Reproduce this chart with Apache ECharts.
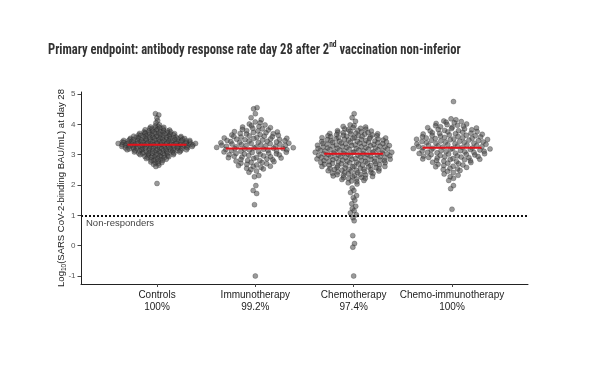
<!DOCTYPE html>
<html>
<head>
<meta charset="utf-8">
<script src="https://cdn.jsdelivr.net/npm/echarts@6/dist/echarts.min.js"></script>
<style>html,body{margin:0;padding:0;background:#fff;}#chart{width:600px;height:365px;}</style>
</head>
<body>
<div id="chart"></div>
<script>
const categories = ['Controls', 'Immunotherapy', 'Chemotherapy', 'Chemo-immunotherapy'];
const responseRates = ['100%', '99.2%', '97.4%', '100%'];
const yTicks = [-1, 0, 1, 2, 3, 4, 5];
const responderThreshold = 1;
const medians = [3.33, 3.20, 3.03, 3.23];

const controls = [4.35,4.31,4.21,4.12,4.05,3.98,3.95,3.93,3.91,3.90,
3.89,3.88,3.86,3.85,3.84,3.83,3.82,3.81,3.80,
3.79,3.78,3.78,3.77,3.76,3.75,3.75,3.74,3.73,3.72,3.72,3.71,3.70,3.70,
3.69,3.69,3.68,3.68,3.67,3.66,3.66,3.65,3.65,3.64,3.63,3.63,3.62,3.62,3.61,3.61,3.60,3.60,
3.59,3.59,3.58,3.58,3.57,3.57,3.56,3.56,3.56,3.55,3.55,3.54,3.54,3.54,3.53,3.53,3.52,3.52,3.52,3.51,3.51,3.50,3.50,3.50,
3.49,3.49,3.49,3.48,3.48,3.47,3.47,3.47,3.47,3.46,3.46,3.46,3.45,3.45,3.45,3.44,3.44,3.43,3.43,3.43,3.43,3.42,3.42,3.42,3.41,3.41,3.41,3.40,3.40,3.40,
3.39,3.39,3.39,3.38,3.38,3.38,3.38,3.37,3.37,3.37,3.36,3.36,3.36,3.35,3.35,3.35,3.35,3.34,3.34,3.34,3.33,3.33,3.33,3.33,3.32,3.32,3.32,3.31,3.31,3.31,3.30,3.30,3.30,
3.29,3.29,3.29,3.28,3.28,3.28,3.27,3.27,3.27,3.27,3.26,3.26,3.26,3.25,3.25,3.25,3.24,3.24,3.23,3.23,3.23,3.22,3.22,3.22,3.21,3.21,3.21,3.20,3.20,3.20,
3.19,3.19,3.19,3.18,3.18,3.17,3.17,3.17,3.16,3.16,3.15,3.15,3.15,3.14,3.14,3.13,3.13,3.13,3.12,3.12,3.11,3.11,3.10,3.10,
3.09,3.09,3.08,3.08,3.07,3.07,3.06,3.06,3.05,3.05,3.04,3.04,3.03,3.03,3.02,3.01,3.00,3.00,
2.99,2.98,2.97,2.96,2.95,2.95,2.94,2.93,2.92,2.92,2.91,2.90,2.90,
2.88,2.87,2.85,2.84,2.83,2.82,2.81,2.80,
2.78,2.76,2.74,2.72,2.71,2.68,2.65,2.61,2.05];

const immunotherapy = [4.55,4.51,4.35,4.22,4.15,4.08,4.05,4.01,3.98,3.95,3.93,3.91,
3.89,3.87,3.85,3.83,3.81,3.79,3.78,3.76,3.75,3.73,3.72,3.70,
3.69,3.68,3.66,3.65,3.64,3.62,3.61,3.60,3.59,3.58,3.57,3.55,3.54,3.53,3.52,3.51,3.50,
3.49,3.48,3.47,3.46,3.45,3.44,3.43,3.42,3.41,3.40,
3.39,3.38,3.37,3.36,3.35,3.34,3.33,3.32,3.31,3.30,3.30,
3.29,3.28,3.27,3.26,3.25,3.24,3.23,3.22,3.21,3.20,3.20,
3.19,3.18,3.17,3.16,3.15,3.14,3.13,3.12,3.11,3.10,
3.09,3.08,3.07,3.05,3.04,3.03,3.02,3.01,3.00,
2.99,2.97,2.96,2.95,2.93,2.92,2.91,2.90,
2.89,2.87,2.86,2.84,2.83,2.81,2.80,
2.79,2.77,2.75,2.74,2.72,2.70,2.68,2.66,2.64,2.62,2.61,
2.58,2.55,2.53,2.51,2.46,2.42,2.31,2.27,1.98,1.82,1.72,1.35,-1.00];

const chemotherapy = [4.35,4.22,4.10,3.98,3.96,3.93,3.91,
3.89,3.87,3.85,3.84,3.82,3.80,
3.79,3.78,3.77,3.75,3.74,3.73,3.72,3.71,3.70,
3.69,3.68,3.67,3.66,3.65,3.64,3.63,3.62,3.62,3.61,3.60,
3.59,3.58,3.57,3.56,3.56,3.55,3.54,3.53,3.52,3.52,3.51,3.50,
3.49,3.48,3.48,3.47,3.46,3.45,3.44,3.44,3.43,3.42,3.41,3.41,3.40,
3.39,3.38,3.38,3.37,3.36,3.35,3.35,3.34,3.33,3.32,3.32,3.31,3.30,3.30,
3.29,3.28,3.28,3.27,3.26,3.25,3.25,3.24,3.23,3.22,3.22,3.21,3.20,3.20,
3.19,3.18,3.18,3.17,3.16,3.15,3.15,3.14,3.13,3.12,3.12,3.11,3.10,3.10,
3.09,3.08,3.08,3.07,3.06,3.05,3.05,3.04,3.03,3.02,3.02,3.01,3.00,3.00,
2.99,2.98,2.98,2.97,2.96,2.95,2.95,2.94,2.93,2.93,2.92,2.91,2.91,2.90,2.90,
2.89,2.88,2.88,2.87,2.86,2.85,2.85,2.84,2.83,2.82,2.82,2.81,2.80,2.80,
2.79,2.78,2.77,2.77,2.76,2.75,2.74,2.73,2.73,2.72,2.71,2.70,2.70,
2.69,2.68,2.67,2.66,2.65,2.65,2.64,2.63,2.62,2.61,2.61,2.60,
2.59,2.58,2.57,2.56,2.55,2.54,2.53,2.52,2.52,2.51,2.50,
2.49,2.48,2.47,2.46,2.45,2.44,2.43,2.42,2.41,2.40,
2.39,2.38,2.37,2.35,2.34,2.33,2.32,2.31,2.30,
2.28,2.27,2.25,2.24,2.22,2.21,2.20,2.18,2.15,2.13,2.11,2.07,2.03,
1.90,1.82,1.75,1.65,1.58,1.50,1.38,1.30,1.22,1.15,1.08,1.02,
0.92,0.82,0.33,0.07,-0.05,-1.00];

const chemoImmunotherapy = [4.75,4.18,4.15,4.11,4.09,4.07,4.05,4.03,4.01,
3.99,3.97,3.95,3.94,3.92,3.90,
3.89,3.88,3.86,3.85,3.83,3.82,3.80,
3.79,3.78,3.76,3.75,3.74,3.72,3.71,3.70,
3.69,3.68,3.67,3.65,3.64,3.63,3.62,3.61,3.60,
3.59,3.58,3.57,3.56,3.55,3.54,3.53,3.52,3.51,3.50,
3.49,3.48,3.47,3.46,3.45,3.44,3.43,3.42,3.41,3.40,
3.39,3.38,3.37,3.36,3.35,3.34,3.33,3.32,3.31,3.30,
3.29,3.28,3.27,3.26,3.25,3.24,3.23,3.22,3.21,3.20,3.20,
3.19,3.18,3.17,3.16,3.15,3.14,3.13,3.12,3.11,3.10,
3.09,3.08,3.07,3.06,3.05,3.04,3.03,3.02,3.01,3.00,
2.99,2.97,2.96,2.95,2.94,2.93,2.92,2.91,2.90,
2.89,2.87,2.86,2.85,2.84,2.83,2.81,2.80,
2.79,2.77,2.75,2.74,2.72,2.70,2.68,2.66,2.64,2.62,2.60,
2.58,2.55,2.53,2.51,2.48,2.45,2.41,2.36,2.32,2.27,2.22,2.15,
1.98,1.88,1.20];

const groups = [controls, immunotherapy, chemotherapy, chemoImmunotherapy];

// quasirandom (van der Corput) horizontal layout, as in ggbeeswarm::geom_quasirandom
function vdc(i) { let r = 0, f = 0.5; while (i > 0) { r += f * (i % 2); i = Math.floor(i / 2); f /= 2; } return r; }
function quantile(s, p) { const h = (s.length - 1) * p, lo = Math.floor(h); return s[lo] + (h - lo) * ((s[lo + 1] !== undefined ? s[lo + 1] : s[lo]) - s[lo]); }
function quasiOffsets(vals, width) {
  const n = vals.length;
  const s = [...vals].sort((a, b) => a - b);
  const mean = vals.reduce((a, b) => a + b, 0) / n;
  const sd = Math.sqrt(vals.reduce((a, b) => a + (b - mean) * (b - mean), 0) / (n - 1));
  const iqr = quantile(s, 0.75) - quantile(s, 0.25);
  const bw = 0.5 * 0.9 * Math.min(sd, iqr / 1.34) * Math.pow(n, -0.2);
  const dens = vals.map(v => vals.reduce((a, u) => a + Math.exp(-0.5 * ((v - u) / bw) ** 2), 0));
  const maxD = Math.max(...dens);
  const idx = vals.map((v, i) => i).sort((a, b) => (vals[a] - vals[b]) || (a - b));
  const off = new Array(n);
  idx.forEach((k, r) => { off[k] = (vdc(r + 1) - 0.5) * 2 * width * dens[k] / maxD; });
  return off;
}

const series = [];
groups.forEach((vals, g) => {
  const off = quasiOffsets(vals, 0.4);
  series.push({
    type: 'scatter',
    data: vals.map((v, i) => [g + 1 + off[i], v]),
    symbolSize: 5,
    itemStyle: { color: 'rgba(80,80,80,0.72)', borderColor: 'rgba(25,25,25,0.55)', borderWidth: 0.6 },
    z: 2,
    silent: true,
    markLine: g === 0 ? {
      silent: true,
      symbol: ['none', 'none'],
      data: [{ yAxis: responderThreshold }],
      lineStyle: { color: '#111', width: 2, type: [2, 2] },
      label: { show: true, position: 'insideStartBottom', formatter: 'Non-responders', color: '#444', fontSize: 9.5, fontFamily: 'Liberation Sans, Arial, sans-serif', distance: [5, 3] }
    } : undefined
  });
});
medians.forEach((m, g) => {
  series.push({
    type: 'line',
    data: [[g + 1 - 0.3, m], [g + 1.3, m]],
    symbol: 'none',
    lineStyle: { color: '#e3121b', width: 2 },
    z: 5,
    silent: true
  });
});

const chart = echarts.init(document.getElementById('chart'), null, { renderer: 'canvas' });
chart.setOption({
  animation: false,
  backgroundColor: '#fff',
  graphic: [{
    type: 'text',
    x: 48, y: 49,
    scaleX: 0.84,
    style: {
      text: '{b|Primary endpoint: antibody response rate day 28 after 2}{s|nd}{b| vaccination non-inferior}',
      verticalAlign: 'middle',
      rich: {
        b: { fontFamily: "'Liberation Sans Narrow', 'Roboto Condensed', 'DejaVu Sans Condensed', sans-serif", fontWeight: 'bold', fontSize: 15, fill: '#333', lineHeight: 18, verticalAlign: 'bottom' },
        s: { fontFamily: "'Liberation Sans Narrow', 'Roboto Condensed', sans-serif", fontWeight: 'bold', fontSize: 9, fill: '#333', lineHeight: 18, verticalAlign: 'top' }
      }
    }
  }],
  grid: { left: 81, right: 72, top: 92, bottom: 81 },
  xAxis: {
    type: 'value', min: 0.227, max: 4.773,
    splitLine: { show: false },
    axisLine: { show: true, onZero: false, lineStyle: { color: '#222', width: 1 } },
    axisTick: { show: true, length: 3, lineStyle: { color: '#444' }, customValues: [1, 2, 3, 4] },
    axisLabel: {
      customValues: [1, 2, 3, 4],
      formatter: v => categories[Math.round(v) - 1] + '\n' + responseRates[Math.round(v) - 1],
      fontSize: 10, lineHeight: 12, color: '#222', margin: 5,
      fontFamily: 'Liberation Sans, Arial, sans-serif'
    }
  },
  yAxis: {
    type: 'value', min: -1.264, max: 5.066,
    splitLine: { show: false },
    axisLine: { show: true, onZero: false, lineStyle: { color: '#222', width: 1 } },
    axisTick: { show: true, length: 3.5, lineStyle: { color: '#444' }, customValues: yTicks },
    axisLabel: { customValues: yTicks, fontSize: 8, color: '#555', margin: 5.5, fontFamily: 'Liberation Sans, Arial, sans-serif' },
    name: '{a|Log}{sub|10}{a|(SARS CoV-2-binding BAU/mL) at day 28}',
    nameLocation: 'middle', nameGap: 13, nameMoveOverlap: false,
    nameTextStyle: {
      rich: {
        a: { fontSize: 9.5, color: '#222', fontFamily: 'Liberation Sans, Arial, sans-serif', lineHeight: 14, verticalAlign: 'middle' },
        sub: { fontSize: 6.5, color: '#222', fontFamily: 'Liberation Sans, Arial, sans-serif', lineHeight: 14, verticalAlign: 'bottom' }
      }
    }
  },
  series: series
});
</script>
</body>
</html>
